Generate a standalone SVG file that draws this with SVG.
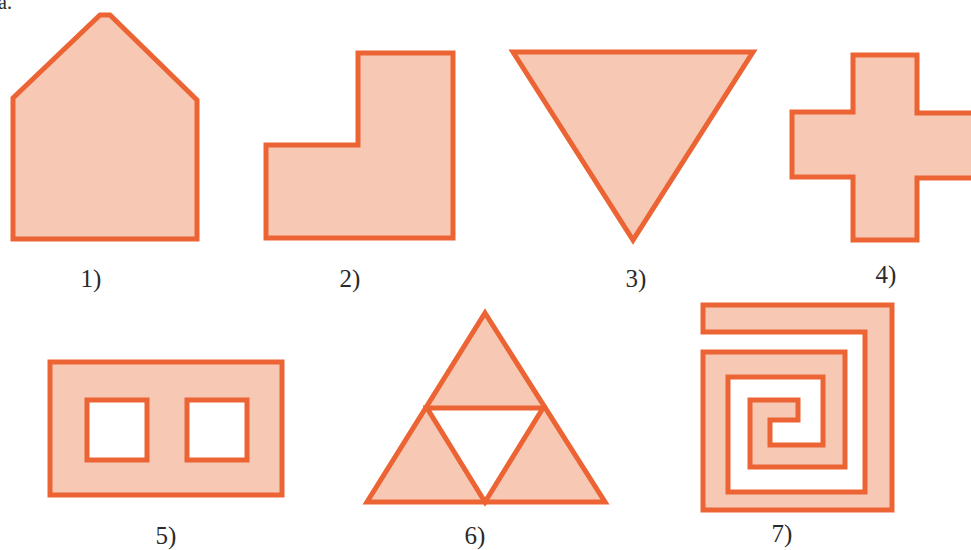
<svg xmlns="http://www.w3.org/2000/svg" width="971" height="550" viewBox="0 0 971 550">
<style>
.s{fill:#f7c8b4;stroke:#ec6434;stroke-width:5;stroke-linejoin:miter}
.h{fill:#ffffff;stroke:#ec6434;stroke-width:5}
.t{font-family:"Liberation Serif",serif;font-size:25px;fill:#2a2a2a;text-anchor:middle}
</style>
<rect width="971" height="550" fill="#ffffff"/>
<text x="-2" y="9" style="font-family:'Liberation Serif',serif;font-size:20px;fill:#2a2a2a">a.</text>
<g id="shape1">
<polygon class="s" points="13,98 100,15 110,15 197,100 197,239 13,239"/>
<text class="t" x="91" y="287">1)</text>
</g>
<g id="shape2">
<polygon class="s" points="358,53 453,53 453,238 266,238 266,145 358,145"/>
<text class="t" x="350" y="287">2)</text>
</g>
<g id="shape3">
<polygon class="s" points="513,52 753,52 633,240"/>
<text class="t" x="636" y="287">3)</text>
</g>
<g id="shape4">
<polygon class="s" points="853,55 917,55 917,113 985,113 985,178 917,178 917,240 853,240 853,177 792,177 792,112 853,112"/>
<text class="t" x="886" y="283">4)</text>
</g>
<g id="shape5">
<rect class="s" x="50" y="362" width="232" height="133"/>
<rect class="h" x="87" y="400" width="60" height="60"/>
<rect class="h" x="187" y="400" width="60" height="60"/>
<text class="t" x="166" y="544">5)</text>
</g>
<g id="shape6">
<polygon class="s" points="485,313 605,502 367,502"/>
<polygon class="h" points="427,408 543,408 485,502"/>
<text class="t" x="475" y="544">6)</text>
</g>
<g id="shape7">
<polygon class="s" points="703,305 892,305 892,510 703,510 703,352 845,352 845,467 750,467 750,400 798,400 798,420 770,420 770,445 823,445 823,377 728,377 728,492 865,492 865,332 703,332"/>
<text class="t" x="782" y="542">7)</text>
</g>
<g id="connectors"/>
</svg>
